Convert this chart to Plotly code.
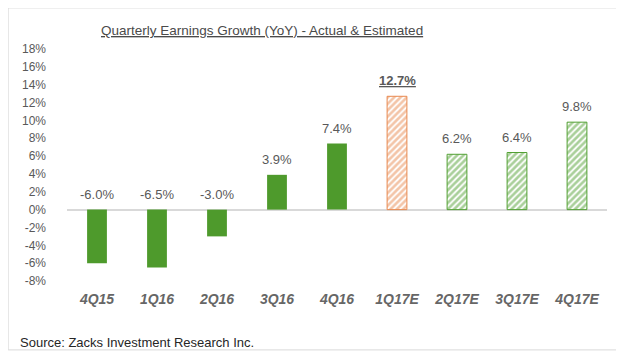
import plotly.graph_objects as go

categories = ["4Q15", "1Q16", "2Q16", "3Q16", "4Q16", "1Q17E", "2Q17E", "3Q17E", "4Q17E"]
values = [-6.0, -6.5, -3.0, 3.9, 7.4, 12.7, 6.2, 6.4, 9.8]
estimated = [False, False, False, False, False, True, True, True, True]
highlight = [False, False, False, False, False, True, False, False, False]
y_ticks = list(range(-8, 19, 2))

GREEN = "#4E9A2C"
GREEN_H = "#52A033"
ORANGE = "#E8894F"
GRAY = "#595959"
FONT = "Liberation Sans, Arial"

fig = go.Figure()

groups = [
    ("actual", [not e for e in estimated], GREEN, ""),
    ("est", [e and not h for e, h in zip(estimated, highlight)], GREEN_H, "/"),
    ("hl", highlight, ORANGE, "/"),
]
for name, mask, color, shape in groups:
    xs = [c for c, m in zip(categories, mask) if m]
    ys = [v for v, m in zip(values, mask) if m]
    if shape:
        marker = dict(color="white", line=dict(color=color, width=1),
                      pattern=dict(shape=shape, fgcolor=color, bgcolor="white",
                                   size=4.5, solidity=0.6, fillmode="overlay"))
    else:
        marker = dict(color=color, line=dict(color=color, width=0))
    fig.add_trace(go.Bar(x=xs, y=ys, name=name, marker=marker, width=0.33, hoverinfo="skip"))

annotations = []
for c, v, h in zip(categories, values, highlight):
    txt = f"{v:.1f}%"
    if h:
        txt = f"<b><u>{txt}</u></b>"
    annotations.append(dict(
        x=c, y=max(v, 0), yref="y", xref="x", text=txt, showarrow=False,
        yanchor="bottom", yshift=6,
        font=dict(family=FONT, size=13, color=GRAY),
    ))

annotations.append(dict(
    xref="paper", yref="paper", x=(262 - 67) / 540, y=1.08, xanchor="center", yanchor="middle",
    text="<u>Quarterly Earnings Growth (YoY) - Actual &amp; Estimated</u>",
    showarrow=False,
    font=dict(family=FONT, size=13.5, color="#4a4a4a"),
))
annotations.append(dict(
    xref="paper", yref="paper", x=-0.091, y=-0.265, xanchor="left", yanchor="middle",
    text="Source: Zacks Investment Research Inc.", showarrow=False,
    font=dict(family=FONT, size=13, color="#262626"),
))

# the page body adds an 8px offset, so margins are reduced accordingly
fig.update_layout(
    width=624, height=357,
    margin=dict(l=59, r=25, t=41, b=84),
    paper_bgcolor="white", plot_bgcolor="white",
    showlegend=False,
    barmode="overlay",
    annotations=annotations,
    shapes=[dict(type="rect", xref="paper", yref="paper",
                 x0=-0.109, x1=1.02, y0=-0.297, y1=1.177,
                 line=dict(color="#D9D9D9", width=1), fillcolor="rgba(0,0,0,0)", layer="below")],
    xaxis=dict(
        showgrid=False, showline=False, ticks="", automargin=False,
        tickfont=dict(family=FONT, size=14, color="#666666", style="italic", weight="bold"),
        ticklabelstandoff=8,
        range=[-0.5, 8.5], categoryorder="array", categoryarray=categories,
    ),
    yaxis=dict(
        range=[-8, 18], tickvals=y_ticks, ticktext=[f"{t}%" for t in y_ticks],
        showgrid=False, zeroline=True, zerolinecolor="#D9D9D9", zerolinewidth=1.5,
        showline=False, ticks="", automargin=False,
        tickfont=dict(family=FONT, size=12, color=GRAY),
        ticklabelstandoff=20,
    ),
)

fig.write_html("out.html")
